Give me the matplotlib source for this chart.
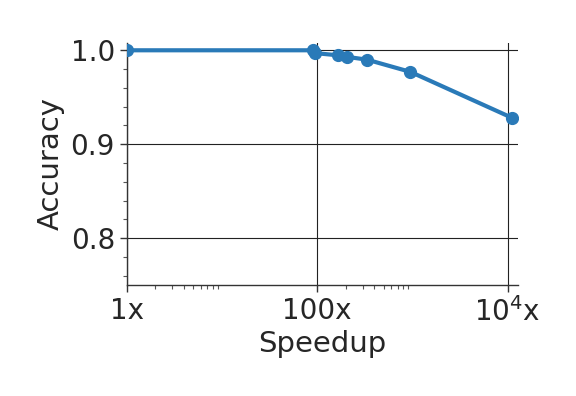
import numpy as np
import matplotlib
matplotlib.use("Agg")
import matplotlib.pyplot as plt
from matplotlib.ticker import FixedLocator, FixedFormatter, MultipleLocator

# values
speedup = [1, 90, 95, 164, 206, 335, 955, 11200]
accuracy = [1.0, 1.0, 0.997, 0.9947, 0.993, 0.990, 0.977, 0.928]

xticks = [1, 100, 10000]
xticklabels = ["1x", "100x", "$10^4$x"]
yticks = [0.8, 0.9, 1.0]

plt.rcParams["font.family"] = "DejaVu Sans"
plt.rcParams["mathtext.default"] = "regular"

fig = plt.figure(figsize=(5.76, 3.96), dpi=100)
ax = fig.add_axes([0.22, 0.28, 0.68, 0.612])

ax.plot(speedup, accuracy, color="#2a7ab8", lw=3, marker="o", ms=8.5, zorder=3)

ax.set_xscale("log")
ax.set_xlim(1, 13000)
ax.set_ylim(0.75, 1.008)

ax.xaxis.set_major_locator(FixedLocator(xticks))
ax.xaxis.set_major_formatter(FixedFormatter(xticklabels))
minor_x = [m * b for b in (1, 100) for m in range(2, 10)]
ax.xaxis.set_minor_locator(FixedLocator(minor_x))
ax.xaxis.set_minor_formatter(FixedFormatter([""] * len(minor_x)))

ax.yaxis.set_major_locator(FixedLocator(yticks))
ax.yaxis.set_minor_locator(MultipleLocator(0.02))

ax.grid(True, which="major", color="#222222", lw=0.8)
ax.set_axisbelow(True)

for s in ("top", "right"):
    ax.spines[s].set_visible(False)
for s in ("left", "bottom"):
    ax.spines[s].set_color("#333333")
    ax.spines[s].set_linewidth(1.0)

ax.tick_params(which="major", length=5, width=1, color="#333333",
               labelsize=20, labelcolor="#262626")
ax.tick_params(which="minor", length=3, width=0.8, color="#555555")

ax.set_xlabel("Speedup", fontsize=21, color="#262626", labelpad=2)
ax.set_ylabel("Accuracy", fontsize=21, color="#262626", labelpad=4)

fig.savefig("out.png", dpi=100)
